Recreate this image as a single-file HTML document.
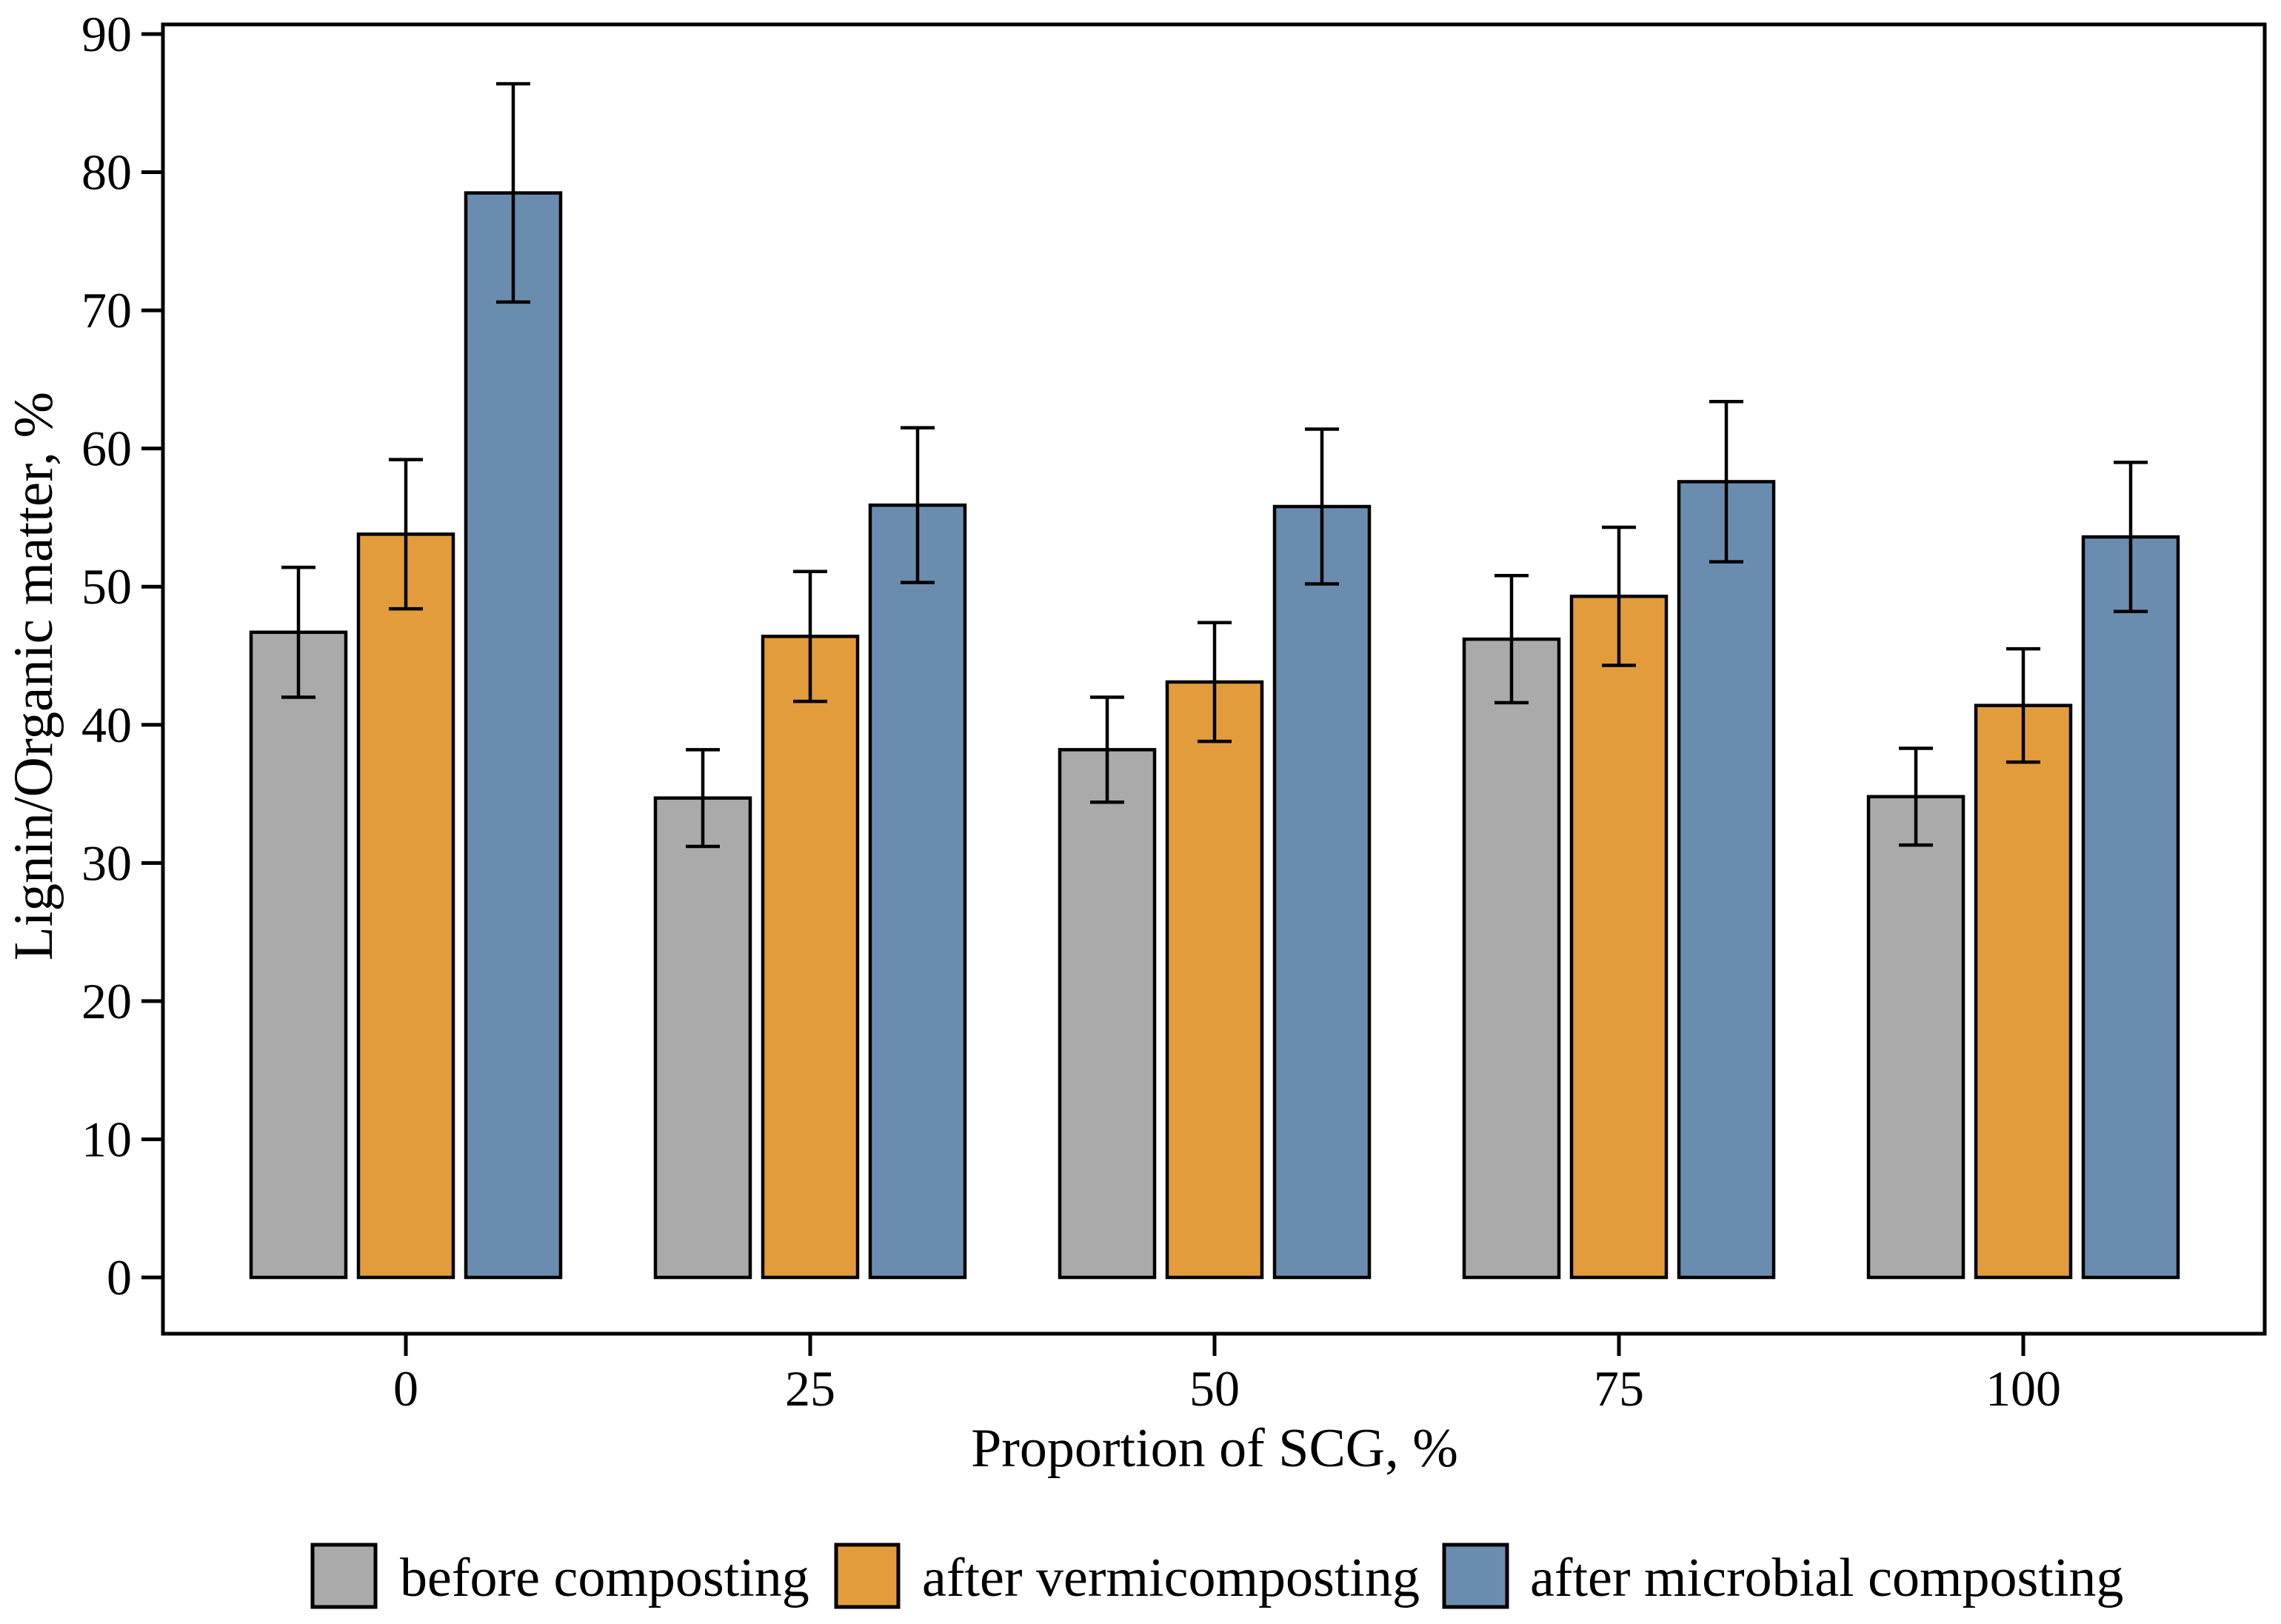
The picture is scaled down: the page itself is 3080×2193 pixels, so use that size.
<!DOCTYPE html>
<html><head><meta charset="utf-8"><style>
html,body{margin:0;padding:0;background:#fff}
svg{display:block}
text{font-family:"Liberation Serif",serif;fill:#000}
</style></head><body>
<svg id="chart" width="3080" height="2193" viewBox="0 0 3080 2193" xmlns="http://www.w3.org/2000/svg">
<rect x="0" y="0" width="3080" height="2193" fill="#fff"/>
<rect x="220" y="33" width="2838" height="1768" fill="none" stroke="#000" stroke-width="5"/>
<g id="bars"></g>
<g id="axes"></g>
<text transform="translate(70,913) rotate(-90)" text-anchor="middle" font-size="75">Lignin/Organic matter, %</text>
<text x="1640" y="1980" text-anchor="middle" font-size="74">Proportion of SCG, %</text>
<g>
<rect x="422" y="2086" width="85" height="84" fill="#aaaaaa" stroke="#000" stroke-width="5"/>
<text x="540" y="2155" font-size="74">before composting</text>
<rect x="1129" y="2086" width="84" height="84" fill="#e39c3b" stroke="#000" stroke-width="5"/>
<text x="1245" y="2155" font-size="74">after vermicomposting</text>
<rect x="1950" y="2086" width="85" height="84" fill="#6a8daf" stroke="#000" stroke-width="5"/>
<text x="2066" y="2155" font-size="74">after microbial composting</text>
</g>
</svg>
<script>
const categories = ["0","25","50","75","100"];
const before = [46.7, 34.7, 38.2, 46.2, 34.8];
const vermi = [53.8, 46.4, 43.1, 49.3, 41.4];
const microbial = [78.5, 55.9, 55.8, 57.6, 53.6];
const beforeErr = [4.7, 3.5, 3.8, 4.6, 3.5];
const vermiErr = [5.4, 4.7, 4.3, 5.0, 4.1];
const microbialErr = [7.9, 5.6, 5.6, 5.8, 5.4];
const yTicks = [0,10,20,30,40,50,60,70,80,90];

const NS = "http://www.w3.org/2000/svg";
function y(v){ return 1725 - v*(1725-46)/90; }
function x(i){ return 548 + i*546; }
const series = [
  {name:"before", vals:before, err:beforeErr, color:"#aaaaaa", off:-145},
  {name:"vermi", vals:vermi, err:vermiErr, color:"#e39c3b", off:0},
  {name:"microbial", vals:microbial, err:microbialErr, color:"#6a8daf", off:145}
];
const bw = 128;
const gb = document.getElementById("bars");
function mk(tag, attrs, parent){ const e=document.createElementNS(NS,tag); for(const k in attrs) e.setAttribute(k,attrs[k]); parent.appendChild(e); return e; }
series.forEach(s=>{
  s.vals.forEach((v,i)=>{
    const cx = x(i)+s.off;
    const r = mk("rect",{x:cx-bw/2,y:y(v),width:bw,height:y(0)-y(v),fill:s.color,stroke:"#000","stroke-width":4.5},gb);
    
    
    const e = s.err[i];
    const eb = mk("path",{d:`M${cx},${y(v+e)}V${y(v-e)}M${cx-23},${y(v+e)}H${cx+23}M${cx-23},${y(v-e)}H${cx+23}`,stroke:"#000","stroke-width":4.5,fill:"none"},gb);
    
    
  });
});
const ga = document.getElementById("axes");
yTicks.forEach(t=>{
  const l = mk("line",{x1:191,x2:220,y1:y(t),y2:y(t),stroke:"#000","stroke-width":5},ga);
  
  
  const tx = mk("text",{x:178,y:y(t)+23,"text-anchor":"end","font-size":68},ga);
  tx.textContent = t;
  
  
});
categories.forEach((c,i)=>{
  const l = mk("line",{x1:x(i),x2:x(i),y1:1801,y2:1831,stroke:"#000","stroke-width":5},ga);
  
  
  const tx = mk("text",{x:x(i),y:1898,"text-anchor":"middle","font-size":68},ga);
  tx.textContent = c;
  
  
});
</script>
</body></html>
